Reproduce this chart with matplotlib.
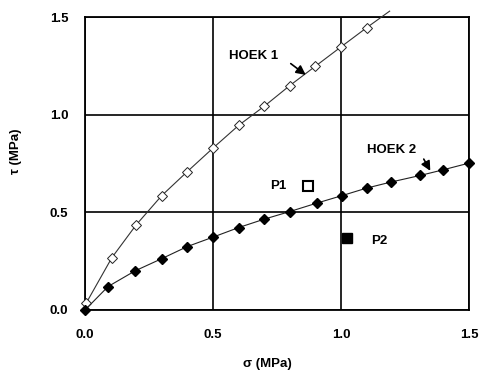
import matplotlib
matplotlib.use("Agg")
import matplotlib.pyplot as plt

# HOEK 1 envelope (open diamonds)
hoek1_sigma = [0.005, 0.105, 0.20, 0.30, 0.40, 0.50, 0.60, 0.70, 0.80, 0.90, 1.00, 1.10]
hoek1_tau = [0.036, 0.268, 0.436, 0.586, 0.709, 0.829, 0.945, 1.043, 1.149, 1.248, 1.347, 1.445]
hoek1_end = (1.19, 1.53)

# HOEK 2 envelope (filled diamonds)
hoek2_sigma = [0.0, 0.09, 0.195, 0.30, 0.40, 0.50, 0.60, 0.70, 0.80, 0.905, 1.005, 1.10, 1.195, 1.31, 1.40, 1.50]
hoek2_tau = [0.0, 0.12, 0.20, 0.263, 0.325, 0.373, 0.422, 0.465, 0.504, 0.547, 0.586, 0.624, 0.655, 0.689, 0.718, 0.752]

# stress points
p1 = (0.872, 0.633)
p2 = (1.022, 0.368)

ticks = [0.0, 0.5, 1.0, 1.5]
tick_labels = ["0.0", "0.5", "1.0", "1.5"]

plt.rcParams["font.family"] = ["Liberation Sans", "DejaVu Sans"]
plt.rcParams["font.weight"] = "bold"

fig = plt.figure(figsize=(4.89, 3.71), dpi=100)
ax = fig.add_axes([85 / 489, 1 - 310 / 371, 384 / 489, 293 / 371])

ax.plot(hoek1_sigma + [hoek1_end[0]], hoek1_tau + [hoek1_end[1]],
        color="#333333", lw=0.8, clip_on=False, zorder=3)
ax.plot(hoek1_sigma, hoek1_tau, ls="none", marker="D", ms=5,
        mfc="white", mec="#222222", mew=0.7, clip_on=False, zorder=4)
ax.plot(hoek2_sigma, hoek2_tau, color="#222222", lw=0.8, marker="D", ms=5,
        mfc="black", mec="black", clip_on=False, zorder=4)

ax.plot(*p1, marker="s", ms=7, mfc="white", mec="black", mew=1.5, ls="none", zorder=5)
ax.plot(*p2, marker="s", ms=7, mfc="black", mec="black", ls="none", zorder=5)

fs = 9.5
arrow = dict(arrowstyle="-|>", color="black", lw=1.2, mutation_scale=14)
ax.text(0.562, 1.30, "HOEK 1", fontsize=fs, fontweight="bold", va="center")
ax.annotate("", xy=(0.871, 1.195), xytext=(0.795, 1.27), arrowprops=arrow)
ax.text(1.10, 0.817, "HOEK 2", fontsize=fs, fontweight="bold", va="center")
ax.annotate("", xy=(1.354, 0.70), xytext=(1.318, 0.785), arrowprops=arrow)
ax.text(0.725, 0.633, "P1", fontsize=fs, fontweight="bold", va="center")
ax.text(1.117, 0.355, "P2", fontsize=fs, fontweight="bold", va="center")

ax.set_xlim(0, 1.5)
ax.set_ylim(0, 1.5)
ax.set_xticks(ticks)
ax.set_xticklabels(tick_labels, fontsize=fs, fontweight="bold")
ax.set_yticks(ticks)
ax.set_yticklabels(tick_labels, fontsize=fs, fontweight="bold")
ax.tick_params(axis="both", length=0)
ax.tick_params(axis="x", pad=14)
ax.tick_params(axis="y", pad=12)
ax.grid(True, color="black", lw=1.2)
for s in ax.spines.values():
    s.set_linewidth(1.3)

ax.set_xlabel("\u03c3 (MPa)", fontsize=fs, fontweight="bold")
ax.set_ylabel("\u03c4 (MPa)", fontsize=fs, fontweight="bold")
ax.xaxis.set_label_coords(0.474, -0.163)
ax.yaxis.set_label_coords(-0.165, 0.543)

fig.savefig("out.png", dpi=100, facecolor="white")
